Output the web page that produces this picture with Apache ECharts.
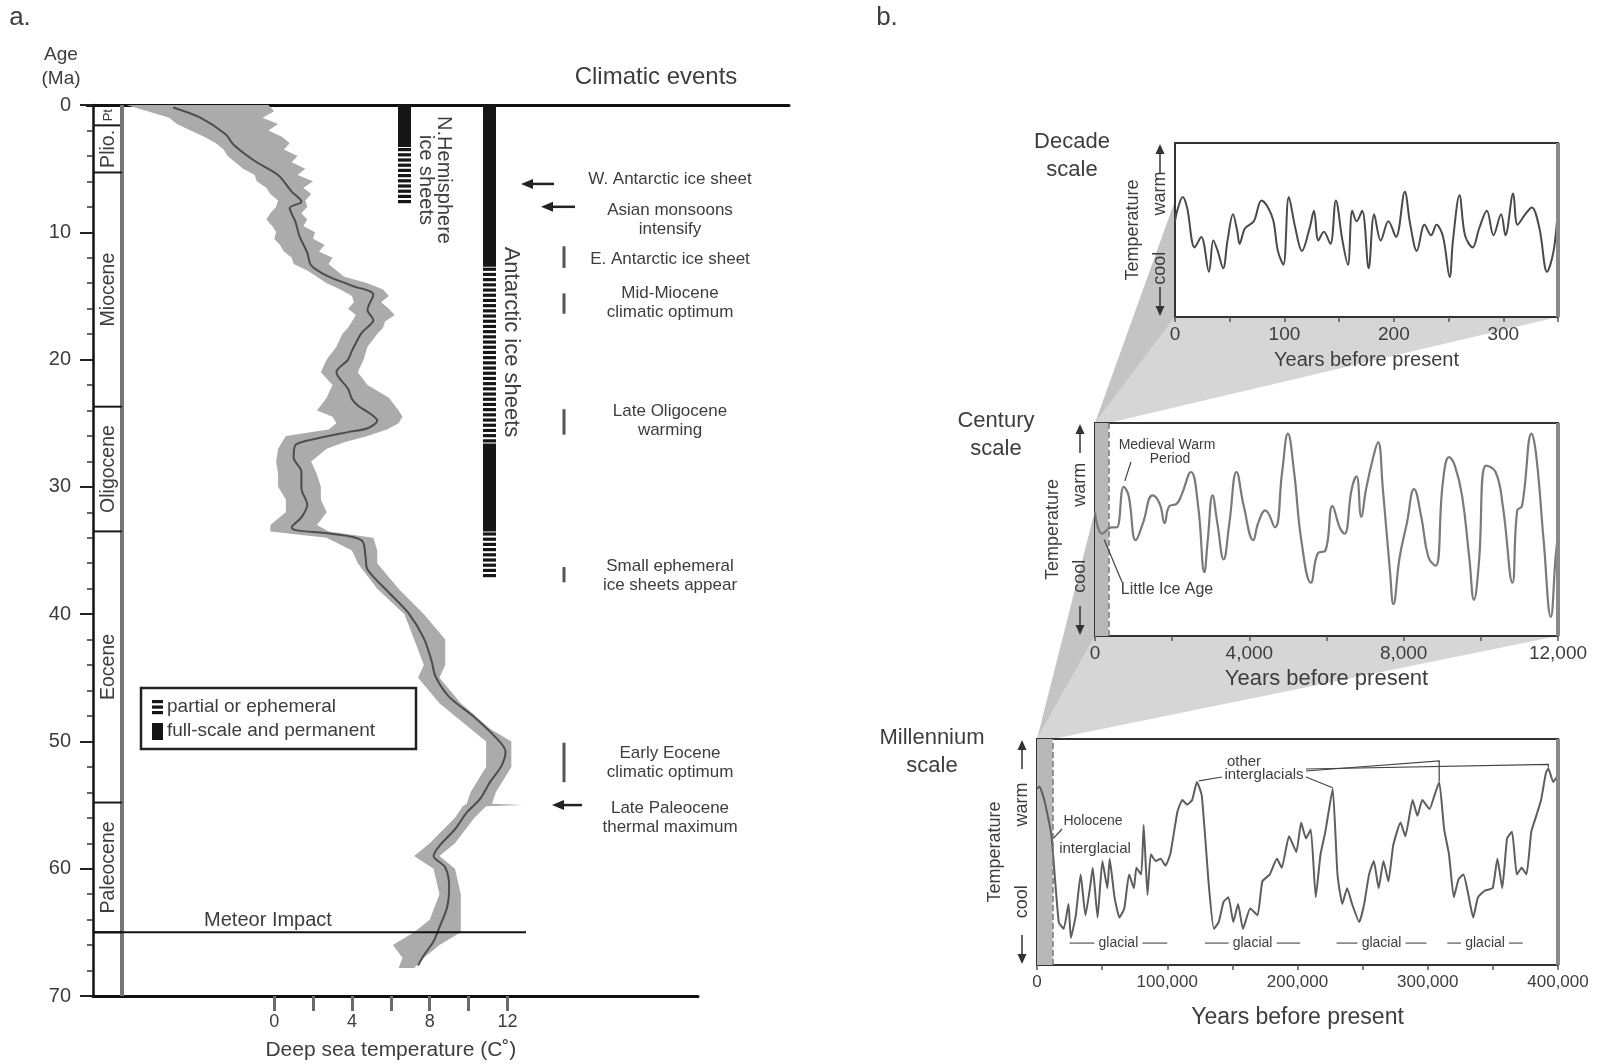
<!DOCTYPE html>
<html>
<head>
<meta charset="utf-8">
<script src="https://cdn.jsdelivr.net/npm/echarts@6/dist/echarts.min.js"></script>
<style>
html,body{margin:0;padding:0;background:#ffffff;}
#chart{width:1602px;height:1064px;}
</style>
</head>
<body>
<div id="chart"></div>
<script>
// ================= DATA =================
// Panel a: geologic epochs (Ma)
const EPOCH_NAMES = ['Pt', 'Plio.', 'Miocene', 'Oligocene', 'Eocene', 'Paleocene'];
const EPOCH_START = [0, 1.6, 5.3, 23.7, 33.5, 54.8];
const EPOCH_END   = [1.6, 5.3, 23.7, 33.5, 54.8, 65.0];

// Panel a: deep-sea temperature, smoothed curve (age Ma, temperature °C)
const MEAN_AGE = [0.2,1.0,2.3,3.1,4.4,5.5,6.8,7.6,8.1,9.2,10.3,11.6,12.6,13.4,14.2,14.9,16.1,16.9,17.9,19.3,20.0,21.0,22.3,23.1,23.6,24.8,25.4,25.7,26.2,26.7,27.7,28.8,30.1,31.4,32.4,33.2,33.4,33.7,34.2,35.5,36.5,38.3,39.9,41.9,43.7,44.9,46.5,48.1,49.7,50.8,51.9,53.2,54.5,55.6,56.9,58.2,59.0,59.9,61.4,63.0,64.6,65.7,66.8,67.6];
const MEAN_T   = [-5.2,-3.8,-2.5,-2.1,-1.0,0.2,0.9,1.4,0.8,1.1,1.3,1.7,1.9,2.7,4.0,5.1,4.8,5.1,4.5,4.0,3.8,3.2,3.8,4.0,4.3,5.3,4.8,3.8,2.2,1.1,1.0,1.4,1.4,1.7,1.4,0.9,1.1,3.0,4.5,4.7,4.8,5.9,6.9,7.7,8.1,8.3,9.0,10.3,11.4,11.9,11.7,11.1,10.6,9.9,9.3,8.5,8.2,8.8,9.0,8.9,8.5,8.2,7.7,7.4];

// Panel a: raw-data envelope (age Ma, lower / upper temperature °C)
const BAND_AGE = [0,0.5,1.0,1.5,2.0,2.5,3.0,3.5,4.0,4.5,5.0,5.5,6.0,6.5,7.0,7.5,8.0,8.5,9.0,9.5,10.0,10.5,11.0,11.5,12.0,12.5,13.0,13.5,14.0,14.5,15.0,15.5,16.0,16.5,17.0,17.5,18.0,19.0,20.0,21.0,22.0,23.0,24.0,24.5,25.0,25.5,26.0,26.5,27.0,28.0,29.0,30.0,31.0,32.0,33.0,33.5,34.0,35.0,36.0,38.0,40.0,42.0,44.0,45.0,47.0,49.0,50.0,52.0,54.0,54.9,55.0,55.1,56.0,58.0,59.0,60.0,62.0,64.0,65.0,66.0,67.0,67.8];
const BAND_LO  = [-7.6,-6.5,-5.4,-5.0,-4.3,-3.6,-3.0,-2.6,-2.4,-2.0,-1.6,-1.0,-0.9,-0.4,-0.2,0.2,0.1,-0.2,-0.4,-0.1,0.1,0.0,0.3,0.5,0.9,1.0,1.7,2.2,2.7,3.4,4.0,4.1,3.8,4.2,4.0,3.8,3.5,3.2,2.7,2.4,3.0,2.7,2.2,3.0,3.2,2.8,0.6,0.4,0.2,0.1,0.2,0.2,0.6,0.6,-0.2,-0.2,2.7,4.0,4.3,5.3,6.7,7.2,7.7,7.4,8.5,10.1,10.9,10.9,10.1,9.9,9.8,9.7,9.3,8.0,7.2,8.2,8.5,8.0,7.2,6.1,6.6,6.4];
const BAND_HI  = [-0.3,0.0,-0.6,0.2,-0.3,0.4,0.8,0.5,1.2,0.9,1.6,1.2,2.0,1.5,1.9,1.6,1.7,1.4,1.7,1.5,2.1,2.0,2.6,2.3,3.0,2.8,3.2,3.6,4.8,5.6,5.9,5.5,5.9,6.2,5.7,5.6,5.3,4.8,4.6,4.3,4.8,5.9,6.4,6.6,6.4,5.8,4.8,3.6,2.7,1.9,2.2,2.4,2.4,2.7,2.2,2.8,5.1,5.3,5.3,6.4,7.7,8.8,8.8,8.5,9.6,11.1,12.2,12.2,11.4,11.2,12.8,10.9,10.3,9.3,8.5,9.3,9.6,9.6,9.6,8.5,7.7,7.2];

// Panel a: ice sheets (Ma); sheet 0 = N. Hemisphere, 1 = Antarctic; full 1 = permanent, 0 = partial
const ICE_SHEET_LABELS = ['N.Hemisphere\nice sheets', 'Antarctic ice sheets'];
const ICE_SHEET = [0, 0, 1, 1, 1, 1];
const ICE_FROM  = [0, 3.3, 0, 12.7, 26.6, 33.5];
const ICE_TO    = [3.3, 7.8, 12.7, 26.6, 33.5, 37.1];
const ICE_FULL  = [1, 0, 1, 0, 1, 0];

// Panel a: climatic events (Ma)
const EVENT_TEXT = ['W. Antarctic ice sheet', 'Asian monsoons\nintensify', 'E. Antarctic ice sheet', 'Mid-Miocene\nclimatic optimum', 'Late Oligocene\nwarming', 'Small ephemeral\nice sheets appear', 'Early Eocene\nclimatic optimum', 'Late Paleocene\nthermal maximum'];
const EVENT_MARK = ['arrow', 'arrow', 'bar', 'bar', 'bar', 'bar', 'bar', 'arrow'];
const EVENT_FROM = [6.2, 8.0, 11.1, 14.8, 23.9, 36.3, 50.1, 55.0];
const EVENT_TO   = [6.2, 8.0, 12.8, 16.4, 25.9, 37.5, 53.2, 55.0];
const EVENT_TEXT_AGE = [5.8, 9.0, 12.1, 15.55, 24.8, 37.0, 51.7, 56.0];
const METEOR_AGE = 65.0;
const LEGEND_ITEMS = ['partial or ephemeral', 'full-scale and permanent'];

// Panel b: decade scale (years BP, relative temperature 0..1)
const DECADE_YR = [0,2,7,11,18,24,31,35,39,44,48,53,57,59,64,72,79,85,90,94,99,104,110,116,123,127,131,136,142,147,153,158,162,166,171,177,182,188,195,202,210,215,221,228,234,239,245,251,254,260,265,272,278,285,291,298,302,309,313,320,326,333,340,346,350];
const DECADE_V  = [0.55,0.61,0.69,0.63,0.40,0.46,0.26,0.44,0.38,0.28,0.44,0.59,0.49,0.42,0.51,0.55,0.67,0.63,0.55,0.38,0.30,0.69,0.51,0.38,0.51,0.61,0.44,0.49,0.42,0.67,0.44,0.30,0.61,0.55,0.61,0.28,0.59,0.44,0.55,0.46,0.72,0.53,0.38,0.53,0.47,0.53,0.46,0.23,0.44,0.70,0.47,0.40,0.51,0.61,0.47,0.59,0.47,0.71,0.53,0.59,0.63,0.51,0.26,0.38,0.63];

// Panel b: century scale
const CENTURY_YR = [0,187,435,560,746,870,1057,1243,1492,1679,1803,1927,2114,2238,2487,2673,2835,2922,3047,3171,3333,3482,3668,3855,4103,4228,4414,4663,4850,4999,5160,5347,5596,5782,5969,6155,6342,6466,6653,6777,6901,7026,7212,7336,7461,7647,7734,7896,8083,8269,8456,8642,8829,9015,9177,9326,9512,9699,9823,9948,10134,10383,10570,10818,10943,11067,11316,11440,11627,11813,11938,12000];
const CENTURY_V  = [0.58,0.48,0.51,0.51,0.70,0.66,0.45,0.53,0.66,0.62,0.53,0.61,0.62,0.66,0.77,0.61,0.30,0.45,0.66,0.53,0.36,0.53,0.77,0.61,0.45,0.53,0.59,0.51,0.77,0.95,0.77,0.45,0.25,0.39,0.40,0.61,0.51,0.48,0.69,0.75,0.56,0.69,0.84,0.91,0.69,0.30,0.15,0.37,0.53,0.69,0.56,0.37,0.33,0.72,0.84,0.80,0.66,0.37,0.17,0.34,0.80,0.77,0.61,0.25,0.59,0.61,0.95,0.84,0.45,0.09,0.37,0.48];
const MEDIEVAL_YR = 746, LITTLE_ICE_AGE_YR = 187;

// Panel b: millennium scale (thousand years BP)
const MILL_KYR = [0,1.9,5.6,9.3,11.2,16.7,20.5,24.2,26.0,29.8,33.5,37.2,40.9,42.8,46.5,50.2,54.0,55.8,59.5,63.3,67.0,70.7,74.4,76.3,80.0,81.9,84.8,87.4,91.2,94.9,98.6,102.3,107.9,111.6,115.3,119.1,122.8,126.5,132.1,135.8,139.5,143.3,147.0,150.7,154.4,158.1,163.7,169.3,173.0,178.6,184.2,187.9,193.5,199.1,202.8,206.5,210.2,214.0,217.7,221.4,227.0,230.7,234.4,238.1,241.9,247.4,251.2,254.9,258.6,262.3,266.0,269.8,273.5,279.1,282.8,288.4,292.1,295.8,301.4,305.1,308.8,312.6,316.3,320.0,323.7,327.4,331.2,334.9,338.6,344.2,349.8,353.5,357.2,360.9,364.7,368.4,372.1,375.8,379.5,383.3,387.0,390.7,392.6,396.3,400];
const MILL_V   = [0.78,0.79,0.73,0.63,0.57,0.19,0.16,0.27,0.12,0.22,0.40,0.22,0.35,0.43,0.21,0.46,0.34,0.47,0.30,0.21,0.25,0.40,0.34,0.43,0.40,0.62,0.31,0.49,0.46,0.47,0.44,0.49,0.68,0.73,0.71,0.73,0.81,0.75,0.34,0.16,0.19,0.28,0.30,0.19,0.27,0.16,0.25,0.22,0.37,0.40,0.47,0.43,0.57,0.50,0.63,0.56,0.60,0.30,0.49,0.59,0.78,0.40,0.27,0.34,0.27,0.19,0.27,0.40,0.46,0.34,0.46,0.37,0.53,0.63,0.57,0.73,0.66,0.73,0.69,0.75,0.81,0.60,0.49,0.30,0.38,0.40,0.31,0.21,0.30,0.33,0.34,0.47,0.34,0.56,0.59,0.40,0.43,0.40,0.59,0.66,0.73,0.85,0.87,0.81,0.84];
const INTERGLACIAL_PEAKS_KYR = [122.8, 227.0, 308.8, 392.6];
const GLACIALS_KYR = [[25, 100], [129, 202], [230, 299], [315, 373]];

// Axis ranges
const AGE_MAX = 70;
const T_MIN = -9.32, T_MAX = 21.8;
const DEC_MAX = 350, CEN_MAX = 12000, MIL_MAX = 400000;

// ================= STYLE =================
const FONT = "'Liberation Sans', Arial, Helvetica, sans-serif";
const INK = '#3d3d3d';
const chart = echarts.init(document.getElementById('chart'));

function tStyle(text, size, align, vAlign, extra) {
  return Object.assign({
    text: text, fontSize: size, fontFamily: FONT, fill: INK,
    align: align || 'center', verticalAlign: vAlign || 'middle',
    textAlign: align || 'center', textVerticalAlign: vAlign || 'middle'
  }, extra || {});
}
function gText(x, y, text, size, o) {
  o = o || {};
  return { type: 'text', x: x, y: y, rotation: o.rotation || 0, z: 30, silent: true,
    style: tStyle(text, size, o.align, o.vAlign, o.lineHeight ? { lineHeight: o.lineHeight } : {}) };
}
function gLine(x1, y1, x2, y2, color, w, z) {
  return { type: 'line', z: z == null ? 30 : z, silent: true, shape: { x1, y1, x2, y2 }, style: { stroke: color, lineWidth: w } };
}

const BAR_X = [398, 483], BAR_W = 13;
const ARROW_X = { 0: [521, 554], 1: [541, 575], 7: [552, 582] };
const EVENT_BAR_X = 564, EVENT_TEXT_X = 670;

const axisLabelStyle = { color: INK, fontFamily: FONT };
const noZeroLine = (o) => Object.assign({ show: true, onZero: false }, o);

const option = {
  animation: false,
  backgroundColor: '#ffffff',
  grid: [
    { left: 93, top: 105, width: 605, height: 891, outerBoundsMode: 'none' },          // 0 panel a
    { left: 274.2, top: 105, width: 233.3, height: 891, outerBoundsMode: 'none' },     // 1 temperature ticks
    { left: 87, top: 105, width: 702, height: 891, outerBoundsMode: 'none' },          // 2 top rule
    { left: 1175, top: 143, width: 383, height: 174, show: true, borderColor: '#333', borderWidth: 2, outerBoundsMode: 'none' }, // 3 decade
    { left: 1095, top: 423, width: 463, height: 213, show: true, borderColor: '#333', borderWidth: 2, outerBoundsMode: 'none' }, // 4 century
    { left: 1037, top: 739, width: 521, height: 226, show: true, borderColor: '#333', borderWidth: 2, outerBoundsMode: 'none' }  // 5 millennium
  ],
  xAxis: [
    { gridIndex: 0, type: 'value', min: T_MIN, max: T_MAX, position: 'bottom',
      axisLine: noZeroLine({ lineStyle: { color: '#111', width: 3 } }), axisTick: { show: false }, axisLabel: { show: false }, splitLine: { show: false } },
    { gridIndex: 1, type: 'value', min: 0, max: 12, interval: 2, position: 'bottom',
      axisLine: { show: false, onZero: false }, axisTick: { show: true, length: 15, lineStyle: { color: '#6a6a6a', width: 3 } },
      axisLabel: Object.assign({ fontSize: 18, margin: 17, formatter: v => (v % 4 === 0 ? String(v) : '') }, axisLabelStyle),
      splitLine: { show: false },
      name: 'Deep sea temperature (C˚)', nameLocation: 'middle', nameGap: 44,
      nameTextStyle: { fontSize: 21, color: INK, fontFamily: FONT } },
    { gridIndex: 2, type: 'value', min: 0, max: 1, position: 'top',
      axisLine: noZeroLine({ lineStyle: { color: '#111', width: 3 } }), axisTick: { show: false }, axisLabel: { show: false }, splitLine: { show: false } },
    { gridIndex: 3, type: 'value', min: 0, max: DEC_MAX, interval: 50, position: 'bottom',
      axisLine: { show: false, onZero: false }, axisTick: { show: true, length: 5, lineStyle: { color: '#555', width: 1.5 } },
      axisLabel: Object.assign({ fontSize: 19, margin: 8, formatter: v => (v % 100 === 0 ? String(v) : '') }, axisLabelStyle),
      splitLine: { show: false },
      name: 'Years before present', nameLocation: 'middle', nameGap: 33, nameTextStyle: { fontSize: 20, color: INK, fontFamily: FONT } },
    { gridIndex: 4, type: 'value', min: 0, max: CEN_MAX, interval: 2000, position: 'bottom',
      axisLine: { show: false, onZero: false }, axisTick: { show: true, length: 5, lineStyle: { color: '#555', width: 1.5 } },
      axisLabel: Object.assign({ fontSize: 19, margin: 8, formatter: v => (v % 4000 === 0 ? v.toLocaleString('en-US') : '') }, axisLabelStyle),
      splitLine: { show: false },
      name: 'Years before present', nameLocation: 'middle', nameGap: 32, nameTextStyle: { fontSize: 22, color: INK, fontFamily: FONT } },
    { gridIndex: 5, type: 'value', min: 0, max: MIL_MAX, interval: 50000, position: 'bottom',
      axisLine: { show: false, onZero: false }, axisTick: { show: true, length: 5, lineStyle: { color: '#555', width: 1.5 } },
      axisLabel: Object.assign({ fontSize: 17, margin: 9, formatter: v => (v % 100000 === 0 ? v.toLocaleString('en-US') : '') }, axisLabelStyle),
      splitLine: { show: false },
      name: 'Years before present', nameLocation: 'middle', nameGap: 41, nameTextStyle: { fontSize: 23, color: INK, fontFamily: FONT } }
  ],
  yAxis: [
    { gridIndex: 0, type: 'value', min: 0, max: AGE_MAX, interval: 10, inverse: true, position: 'left',
      axisLine: noZeroLine({ lineStyle: { color: '#111', width: 2.5 } }),
      axisTick: { show: true, length: 13, lineStyle: { color: '#222', width: 2 } },
      minorTick: { show: true, splitNumber: 5, length: 6, lineStyle: { color: '#333', width: 1.5 } },
      axisLabel: Object.assign({ fontSize: 20, margin: 22 }, axisLabelStyle),
      splitLine: { show: false } },
    { gridIndex: 1, type: 'value', min: 0, max: AGE_MAX, inverse: true, show: false, axisLine: { onZero: false } },
    { gridIndex: 2, type: 'value', min: 0, max: 1, show: false, axisLine: { onZero: false } },
    { gridIndex: 3, type: 'value', min: 0, max: 1, show: false, axisLine: { onZero: false } },
    { gridIndex: 4, type: 'value', min: 0, max: 1, show: false, axisLine: { onZero: false } },
    { gridIndex: 5, type: 'value', min: 0, max: 1, show: false, axisLine: { onZero: false } }
  ],
  series: [
    // envelope of raw data
    { type: 'custom', xAxisIndex: 0, yAxisIndex: 0, silent: true, z: 1, data: [[0, 0]],
      renderItem: function (params, api) {
        const pts = [];
        for (let i = 0; i < BAND_AGE.length; i++) pts.push(api.coord([BAND_LO[i], BAND_AGE[i]]));
        for (let i = BAND_AGE.length - 1; i >= 0; i--) pts.push(api.coord([BAND_HI[i], BAND_AGE[i]]));
        return { type: 'polygon', shape: { points: pts }, style: { fill: '#ababab' } };
      } },
    // smoothed curve
    { type: 'line', xAxisIndex: 0, yAxisIndex: 0, silent: true, z: 3, showSymbol: false, smooth: 0.3,
      lineStyle: { color: '#4d4d4d', width: 2 },
      data: MEAN_T.map((t, i) => [t, MEAN_AGE[i]]) },
    // epoch column
    { type: 'custom', xAxisIndex: 0, yAxisIndex: 0, silent: true, z: 4,
      data: EPOCH_NAMES.map((n, i) => [0, EPOCH_START[i]]),
      renderItem: function (params, api) {
        const i = params.dataIndex;
        const xl = api.coord([T_MIN, 0])[0], xr = xl + 29;
        const y0 = api.coord([T_MIN, EPOCH_START[i]])[1], y1 = api.coord([T_MIN, EPOCH_END[i]])[1];
        const ch = [];
        ch.push({ type: 'line', shape: { x1: xl, y1: y1, x2: xr, y2: y1 }, style: { stroke: '#1a1a1a', lineWidth: 2 } });
        if (i === 0) {
          const yb = api.coord([T_MIN, AGE_MAX])[1];
          ch.push({ type: 'line', shape: { x1: xr, y1: y0, x2: xr, y2: yb }, style: { stroke: '#777', lineWidth: 4 } });
        }
        ch.push({ type: 'text', x: (xl + xr) / 2 + 1, y: (y0 + y1) / 2, rotation: Math.PI / 2,
          style: tStyle(EPOCH_NAMES[i], i === 0 ? 13 : 19.5) });
        return { type: 'group', children: ch };
      } },
    // ice sheets
    { type: 'custom', xAxisIndex: 0, yAxisIndex: 0, silent: true, z: 4,
      data: ICE_FROM.map((f, i) => [0, f]),
      renderItem: function (params, api) {
        const i = params.dataIndex;
        const s = ICE_SHEET[i];
        const y0 = api.coord([0, ICE_FROM[i]])[1], y1 = api.coord([0, ICE_TO[i]])[1];
        const x = BAR_X[s];
        const ch = [];
        if (ICE_FULL[i]) {
          ch.push({ type: 'rect', shape: { x: x, y: y0, width: BAR_W, height: y1 - y0 }, style: { fill: '#161616' } });
        } else {
          for (let y = y0 + 1; y < y1 - 1; y += 5.2) {
            ch.push({ type: 'rect', shape: { x: x, y: y, width: BAR_W, height: Math.min(3.2, y1 - y) }, style: { fill: '#161616' } });
          }
        }
        if (i === 0) {
          ch.push({ type: 'text', x: 435, y: 180, rotation: -Math.PI / 2,
            style: tStyle(ICE_SHEET_LABELS[0], 20, 'center', 'middle', { lineHeight: 18 }) });
        }
        if (i === 2) {
          ch.push({ type: 'text', x: 511, y: 342, rotation: -Math.PI / 2, style: tStyle(ICE_SHEET_LABELS[1], 22) });
        }
        return { type: 'group', children: ch };
      } },
    // climatic events
    { type: 'custom', xAxisIndex: 0, yAxisIndex: 0, silent: true, z: 4,
      data: EVENT_FROM.map((f, i) => [0, f]),
      renderItem: function (params, api) {
        const i = params.dataIndex;
        const ch = [];
        const y0 = api.coord([0, EVENT_FROM[i]])[1], y1 = api.coord([0, EVENT_TO[i]])[1];
        if (EVENT_MARK[i] === 'arrow') {
          const ax = ARROW_X[i];
          ch.push({ type: 'line', shape: { x1: ax[0] + 8, y1: y0, x2: ax[1], y2: y0 }, style: { stroke: '#222', lineWidth: 2.5 } });
          ch.push({ type: 'polygon', shape: { points: [[ax[0], y0], [ax[0] + 12, y0 - 5], [ax[0] + 12, y0 + 5]] }, style: { fill: '#222' } });
        } else {
          ch.push({ type: 'line', shape: { x1: EVENT_BAR_X, y1: y0, x2: EVENT_BAR_X, y2: y1 }, style: { stroke: '#555', lineWidth: 3 } });
        }
        const yt = api.coord([0, EVENT_TEXT_AGE[i]])[1];
        ch.push({ type: 'text', x: EVENT_TEXT_X, y: yt, style: tStyle(EVENT_TEXT[i], 17, 'center', 'middle', { lineHeight: 19 }) });
        return { type: 'group', children: ch };
      } },
    // meteor impact
    { type: 'custom', xAxisIndex: 0, yAxisIndex: 0, silent: true, z: 4, data: [[0, METEOR_AGE]],
      renderItem: function (params, api) {
        const p0 = api.coord([T_MIN, METEOR_AGE]);
        return { type: 'group', children: [
          { type: 'line', shape: { x1: p0[0], y1: p0[1], x2: 526, y2: p0[1] }, style: { stroke: '#111', lineWidth: 2 } },
          { type: 'text', x: 268, y: p0[1] - 12, style: tStyle('Meteor Impact', 20) }
        ] };
      } },
    // decade
    { type: 'line', xAxisIndex: 3, yAxisIndex: 3, silent: true, showSymbol: false, smooth: 0.35, z: 3,
      lineStyle: { color: '#4a4a4a', width: 2 },
      data: DECADE_YR.map((x, i) => [x, DECADE_V[i]]) },
    // century
    { type: 'line', xAxisIndex: 4, yAxisIndex: 4, silent: true, showSymbol: false, smooth: 0.45, z: 3,
      lineStyle: { color: '#7a7a7a', width: 2.2 },
      data: CENTURY_YR.map((x, i) => [x, CENTURY_V[i]]),
      markArea: { silent: true, itemStyle: { color: '#b8b8b8' }, data: [[{ xAxis: 0 }, { xAxis: DEC_MAX }]] },
      markLine: { silent: true, symbol: 'none', label: { show: false }, lineStyle: { type: 'dashed', color: '#777', width: 1.5 }, data: [{ xAxis: DEC_MAX }] } },
    // millennium
    { type: 'line', xAxisIndex: 5, yAxisIndex: 5, silent: true, showSymbol: false, smooth: 0.15, z: 3,
      lineStyle: { color: '#5e5e5e', width: 2 },
      data: MILL_KYR.map((k, i) => [k * 1000, MILL_V[i]]),
      markArea: { silent: true, itemStyle: { color: '#b8b8b8' }, data: [[{ xAxis: 0 }, { xAxis: CEN_MAX }]] },
      markLine: { silent: true, symbol: 'none', label: { show: false }, lineStyle: { type: 'dashed', color: '#777', width: 1.5 }, data: [{ xAxis: CEN_MAX }] } }
  ]
};
chart.setOption(option);

// ================= OVERLAYS (positioned through the chart's own scales) =================
const px = (g, p) => chart.convertToPixel({ gridIndex: g }, p);
const G = [];

// zoom wedges
G.push({ type: 'polygon', z: -10, silent: true, style: { fill: '#d6d6d6' },
  shape: { points: [px(3, [0, 0]), px(3, [DEC_MAX, 0]), px(4, [DEC_MAX, 1]), px(4, [0, 1])] } });
G.push({ type: 'polygon', z: -9, silent: true, style: { fill: '#c4c4c4' },
  shape: { points: [px(3, [0, 0.67]), px(3, [0, 0]), px(4, [0, 1])] } });
G.push({ type: 'polygon', z: -10, silent: true, style: { fill: '#d6d6d6' },
  shape: { points: [px(4, [0, 0]), px(4, [CEN_MAX, 0]), px(5, [CEN_MAX, 1]), px(5, [0, 1])] } });
G.push({ type: 'polygon', z: -9, silent: true, style: { fill: '#c4c4c4' },
  shape: { points: [px(4, [0, 0.59]), px(4, [0, 0]), px(5, [0, 1])] } });

// temperature warm/cool axes
function tempAxis(g, xmin) {
  const tl = px(g, [xmin, 1]), bl = px(g, [xmin, 0]);
  const h = bl[1] - tl[1], ax = tl[0] - 15;
  G.push(gLine(ax, tl[1] + 9, ax, tl[1] + 30, '#333', 1.5));
  G.push({ type: 'polygon', z: 30, silent: true, shape: { points: [[ax, tl[1] + 1], [ax - 4.5, tl[1] + 11], [ax + 4.5, tl[1] + 11]] }, style: { fill: '#333' } });
  G.push(gLine(ax, bl[1] - 30, ax, bl[1] - 9, '#333', 1.5));
  G.push({ type: 'polygon', z: 30, silent: true, shape: { points: [[ax, bl[1] - 1], [ax - 4.5, bl[1] - 11], [ax + 4.5, bl[1] - 11]] }, style: { fill: '#333' } });
  G.push(gText(ax, tl[1] + 0.29 * h, 'warm', 18, { rotation: Math.PI / 2 }));
  G.push(gText(ax, bl[1] - 0.28 * h, 'cool', 18, { rotation: Math.PI / 2 }));
  G.push(gText(tl[0] - 42, (tl[1] + bl[1]) / 2, 'Temperature', 18, { rotation: Math.PI / 2 }));
}
tempAxis(3, 0); tempAxis(4, 0); tempAxis(5, 0);

// right borders of b panels (grey, heavier)
[[3, DEC_MAX], [4, CEN_MAX], [5, MIL_MAX]].forEach(([g, xm]) => {
  const t = px(g, [xm, 1]), b = px(g, [xm, 0]);
  G.push(gLine(t[0], t[1], b[0], b[1], '#8a8a8a', 4, 25));
});

// titles and panel labels
G.push(gText(20, 18, 'a.', 26));
G.push(gText(887, 18, 'b.', 26));
G.push(gText(61, 55, 'Age', 19));
G.push(gText(61, 79, '(Ma)', 19));
G.push(gText(656, 77, 'Climatic events', 24));
G.push(gText(1072, 156, 'Decade\nscale', 22, { lineHeight: 28 }));
G.push(gText(996, 435, 'Century\nscale', 22, { lineHeight: 28 }));
G.push(gText(932, 752, 'Millennium\nscale', 22, { lineHeight: 28 }));

// legend
G.push({ type: 'rect', z: 30, silent: true, shape: { x: 141, y: 688, width: 275, height: 61 }, style: { fill: '#fff', stroke: '#222', lineWidth: 2.5 } });
[700, 705.5, 711].forEach(y => G.push({ type: 'rect', z: 31, silent: true, shape: { x: 152, y: y, width: 11, height: 3.2 }, style: { fill: '#161616' } }));
G.push({ type: 'rect', z: 31, silent: true, shape: { x: 152, y: 723, width: 11, height: 17 }, style: { fill: '#161616' } });
G.push(gText(167, 707, LEGEND_ITEMS[0], 19, { align: 'left' }));
G.push(gText(167, 731, LEGEND_ITEMS[1], 19, { align: 'left' }));

// century annotations
const cenV = yr => CENTURY_V[CENTURY_YR.indexOf(yr)];
const mwp = px(4, [MEDIEVAL_YR, cenV(MEDIEVAL_YR)]);
G.push(gText(1167, 445, 'Medieval Warm', 14));
G.push(gText(1170, 459, 'Period', 14));
G.push(gLine(1131, 462, mwp[0] + 1, mwp[1] - 6, '#444', 1.2));
const lia = px(4, [LITTLE_ICE_AGE_YR, cenV(LITTLE_ICE_AGE_YR)]);
G.push(gText(1167, 590, 'Little Ice Age', 16));
G.push(gLine(1122, 582, lia[0] + 2, lia[1] + 6, '#444', 1.2));

// millennium annotations
const milV = k => MILL_V[MILL_KYR.indexOf(k)];
G.push(gText(1093, 821, 'Holocene', 14));
G.push(gText(1095, 849, 'interglacial', 15));
const hol = px(5, [11200, milV(11.2)]);
G.push(gLine(1062, 829, hol[0] + 2, hol[1] + 2, '#444', 1.2));
G.push(gText(1244, 762, 'other', 15));
G.push(gText(1264, 775, 'interglacials', 15));
const pk = INTERGLACIAL_PEAKS_KYR.map(k => px(5, [k * 1000, milV(k)]));
G.push({ type: 'polyline', z: 30, silent: true, shape: { points: [[1222, 777], [pk[0][0] + 2, pk[0][1] - 1]] }, style: { stroke: '#444', lineWidth: 1.2, fill: null } });
G.push({ type: 'polyline', z: 30, silent: true, shape: { points: [[1306, 777], [pk[1][0], pk[1][1] - 1]] }, style: { stroke: '#444', lineWidth: 1.2, fill: null } });
G.push({ type: 'polyline', z: 30, silent: true, shape: { points: [[1306, 771], [pk[2][0], pk[2][1] - 21], [pk[2][0], pk[2][1] - 1]] }, style: { stroke: '#444', lineWidth: 1.2, fill: null } });
G.push({ type: 'polyline', z: 30, silent: true, shape: { points: [[1306, 769], [pk[3][0], pk[3][1] - 4], [pk[3][0], pk[3][1] - 1]] }, style: { stroke: '#444', lineWidth: 1.2, fill: null } });
GLACIALS_KYR.forEach(([a, b]) => {
  const p0 = px(5, [a * 1000, 0.097]), p1 = px(5, [b * 1000, 0.097]);
  const xc = (p0[0] + p1[0]) / 2;
  G.push(gLine(p0[0], p0[1], xc - 24, p0[1], '#555', 1.2));
  G.push(gLine(xc + 24, p0[1], p1[0], p0[1], '#555', 1.2));
  G.push(gText(xc, p0[1], 'glacial', 14));
});

chart.setOption({ graphic: { elements: G } });
</script>
</body>
</html>
